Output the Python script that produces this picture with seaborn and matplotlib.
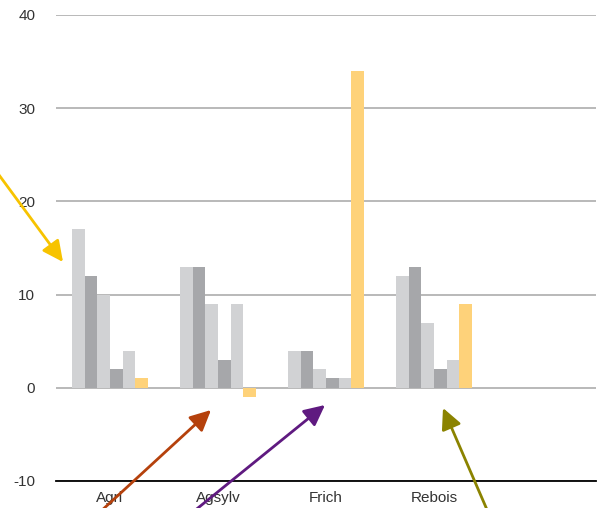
import matplotlib
matplotlib.use("Agg")
import matplotlib.pyplot as plt
import seaborn as sns
import pandas as pd

categories = ["Agri", "Agsylv", "Frich", "Rebois"]
series = ["S1", "S2", "S3", "S4", "S5", "S6"]
values = {
    "S1": [17, 13, 4, 12],
    "S2": [12, 13, 4, 13],
    "S3": [10, 9, 2, 7],
    "S4": [2, 3, 1, 2],
    "S5": [4, 9, 1, 3],
    "S6": [1, -1, 34, 9],
}
colors = ["#D1D2D4", "#A6A7AA", "#D1D2D4", "#A6A7AA", "#D1D2D4", "#FED27A"]
yticks = [-10, 0, 10, 20, 30, 40]

rows = []
for s in series:
    for c, v in zip(categories, values[s]):
        rows.append({"cat": c, "series": s, "value": v})
df = pd.DataFrame(rows)

sns.set_theme(style="white")
plt.rcParams["font.family"] = ["Liberation Sans", "DejaVu Sans"]

fig = plt.figure(figsize=(6.04, 5.08), dpi=100)
ax = fig.add_axes([56 / 604, 1 - 481 / 508, 540 / 604, (481 - 15) / 508])

sns.barplot(data=df, x="cat", y="value", hue="series", order=categories,
            hue_order=series, palette=colors, width=0.7, saturation=1,
            legend=False, ax=ax, errorbar=None, linewidth=0)

ax.set_xlim(-0.5, 4.5)
ax.set_ylim(-10, 40)
ax.set_yticks(yticks)
ax.set_yticklabels([str(t) for t in yticks])
ax.set_xticks(range(len(categories)))
ax.set_xticklabels(categories)
ax.set_xlabel("")
ax.set_ylabel("")
ax.set_axisbelow(True)
ax.yaxis.grid(True, color="#B3B3B3", linewidth=1.3)
ax.xaxis.grid(False)
for side in ["top", "right", "left"]:
    ax.spines[side].set_visible(False)
ax.spines["bottom"].set_color("black")
ax.spines["bottom"].set_linewidth(1.3)
ax.tick_params(axis="y", length=0, pad=15, labelsize=11, labelcolor="#333333")
ax.tick_params(axis="x", length=0, pad=7, labelsize=11, labelcolor="#333333")

H = 508
arrows = [
    ((-12, 160), (63, 262), "#F7C300"),
    ((100, 512), (211, 410), "#B5410C"),
    ((193, 512), (325, 405), "#5F1A80"),
    ((488, 512), (443, 408), "#8B8300"),
]
for tail, tip, col in arrows:
    ax.annotate("", xy=(tip[0], H - tip[1]), xytext=(tail[0], H - tail[1]),
                xycoords="figure pixels", textcoords="figure pixels",
                annotation_clip=False,
                arrowprops=dict(arrowstyle="-|>,head_length=0.45,head_width=0.22",
                                mutation_scale=28, lw=2, color=col,
                                shrinkA=0, shrinkB=0))

fig.savefig("out.png", dpi=100)
